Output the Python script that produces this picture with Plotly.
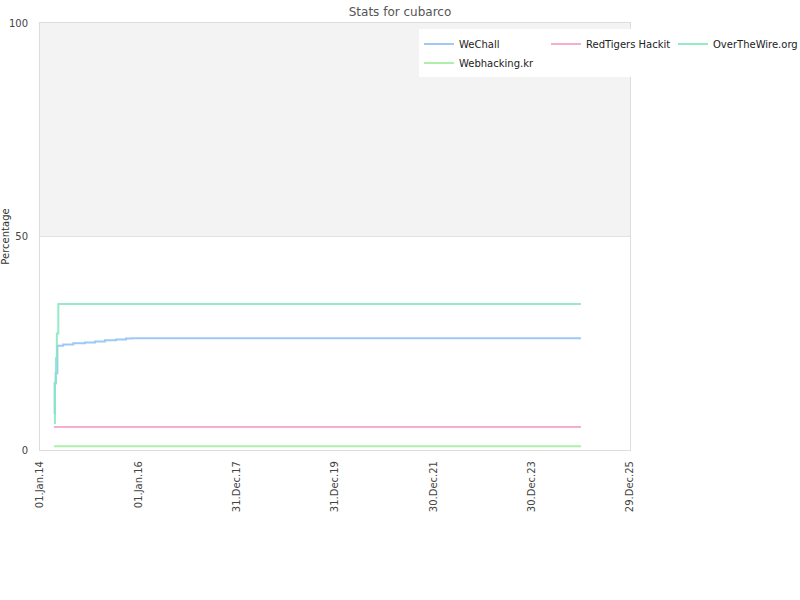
import plotly.graph_objects as go

title = "Stats for cubarco"
y_label = "Percentage"

wechall_dates = ["2014-04-15", "2014-04-20", "2014-04-27", "2014-05-10", "2014-06-22",
                 "2014-09-05", "2014-12-01", "2015-02-13", "2015-04-28", "2015-07-19",
                 "2015-10-01", "2015-11-12", "2024-12-30"]
wechall_vals = [8.5, 15.6, 18.0, 24.4, 24.7, 25.0, 25.2, 25.4, 25.7, 25.9, 26.1, 26.2, 26.2]

redtigers_dates = ["2014-04-15", "2024-12-30"]
redtigers_vals = [5.4, 5.4]

otw_dates = ["2014-04-15", "2014-04-22", "2014-04-29", "2014-05-06", "2014-05-17", "2024-12-30"]
otw_vals = [6.3, 15.7, 21.5, 27.3, 34.2, 34.2]

webhacking_dates = ["2014-04-15", "2024-12-30"]
webhacking_vals = [0.9, 0.9]

tick_dates = ["2014-01-01", "2016-01-01", "2017-12-31", "2019-12-31", "2021-12-30",
              "2023-12-30", "2025-12-29"]
tick_text = ["01.Jan.14", "01.Jan.16", "31.Dec.17", "31.Dec.19", "30.Dec.21",
             "30.Dec.23", "29.Dec.25"]
y_ticks = [0, 50, 100]

series = [
    ("WeChall", wechall_dates, wechall_vals, "rgba(140,192,242,0.85)"),
    ("RedTigers Hackit", redtigers_dates, redtigers_vals, "rgba(244,160,200,0.85)"),
    ("OverTheWire.org", otw_dates, otw_vals, "rgba(130,232,190,0.85)"),
    ("Webhacking.kr", webhacking_dates, webhacking_vals, "rgba(160,236,160,0.85)"),
]

fig = go.Figure()
for name, d, v, c in series:
    fig.add_trace(go.Scatter(x=d, y=v, name=name, mode="lines",
                             line=dict(color=c, width=2, shape="hv")))

fig.add_shape(type="rect", xref="paper", yref="y", x0=0, x1=1, y0=50, y1=100,
              fillcolor="#f3f3f3", line=dict(width=0), layer="below")
fig.add_shape(type="line", xref="paper", yref="y", x0=0, x1=1, y0=50, y1=50,
              line=dict(color="#e2e2e2", width=1), layer="below")

fig.update_layout(
    template="none",
    width=800, height=600,
    margin=dict(l=40, r=170, t=23, b=150, autoexpand=False),
    paper_bgcolor="white", plot_bgcolor="white",
    font=dict(family="DejaVu Sans", size=10, color="#444"),
    title=dict(text=title, x=0.5, xanchor="center", y=0.98, yanchor="middle",
               font=dict(size=12, color="#555")),
    showlegend=True,
    legend=dict(orientation="h", x=1.2881, y=0.985, xanchor="right", yanchor="top",
                bgcolor="white", font=dict(size=10, color="#222"),
                entrywidth=82, entrywidthmode="pixels", itemwidth=30,
                tracegroupgap=0),
    xaxis=dict(range=["2014-01-01", "2025-12-29"], tickvals=tick_dates, ticktext=tick_text,
               tickangle=-90, showgrid=False, zeroline=False, showline=True, automargin=False,
               linecolor="#dddddd", mirror=True, ticks="", ticklabelstandoff=6,
               tickfont=dict(size=10, color="#444")),
    yaxis=dict(range=[0, 100], tickvals=y_ticks, showgrid=False, zeroline=False, automargin=False,
               showline=True, linecolor="#dddddd", mirror=True, ticks="", ticklabelstandoff=9,
               title=dict(text=y_label, font=dict(size=10, color="#333"), standoff=12),
               tickfont=dict(size=10, color="#444")),
)

fig.write_html("out.html")
